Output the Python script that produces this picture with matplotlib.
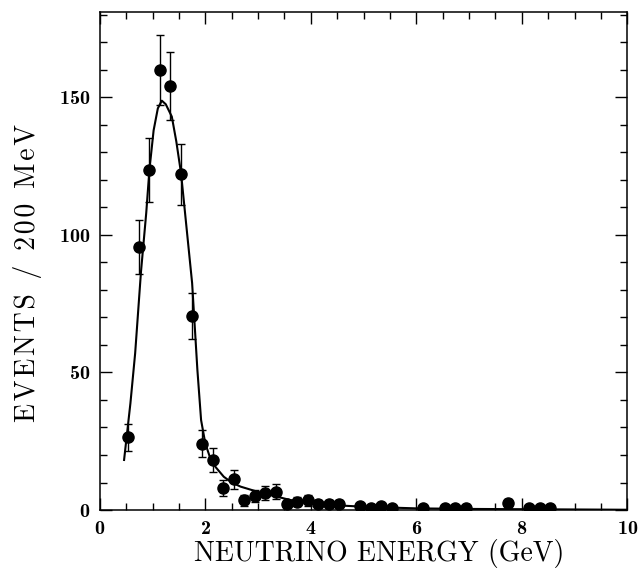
import numpy as np
import matplotlib
matplotlib.use("Agg")
import matplotlib.pyplot as plt
from matplotlib.ticker import MultipleLocator

plt.rcParams['font.family'] = ['cmr10', 'DejaVu Serif']
plt.rcParams['axes.formatter.use_mathtext'] = True

# measured points (bin centres, events per 200 MeV, errors)
energy = [0.54, 0.74, 0.94, 1.14, 1.34, 1.54, 1.74, 1.94, 2.14, 2.34, 2.54,
          2.74, 2.94, 3.14, 3.34, 3.54, 3.74, 3.94, 4.14, 4.34, 4.54, 4.94,
          5.14, 5.34, 5.54, 6.12, 6.54, 6.74, 6.94, 7.74, 8.14, 8.34, 8.54]
events = [26.4, 95.5, 123.6, 160.0, 154.0, 122.0, 70.5, 24.1, 18.2, 8.0, 11.2,
          3.6, 5.1, 6.1, 6.7, 2.2, 3.0, 3.6, 2.2, 2.2, 2.2, 1.5,
          0.7, 1.5, 0.7, 0.7, 0.7, 0.7, 0.7, 2.4, 0.7, 0.7, 0.7]
errors = [5.0, 9.8, 11.5, 12.7, 12.4, 11.2, 8.5, 5.0, 4.2, 2.8, 3.4,
          2.0, 2.2, 2.5, 2.6, 1.5, 1.7, 2.0, 1.5, 1.5, 1.5, 1.2,
          1.0, 1.2, 1.0, 1.0, 1.0, 1.0, 1.0, 1.6, 1.0, 1.0, 1.0]

# fitted curve
fit_x = [0.46, 0.58, 0.67, 0.78, 0.88, 0.94, 1.02, 1.10, 1.175, 1.25, 1.365,
         1.45, 1.54, 1.68, 1.75, 1.85, 1.92, 2.0, 2.1, 2.2, 2.35, 2.5, 2.67,
         2.98, 3.37, 3.62, 4.0, 4.5, 5.0, 6.0, 7.0, 8.0, 9.0, 10.0]
fit_y = [18.2, 38.8, 57.0, 86.5, 108.0, 123.6, 138.0, 146.0, 148.8, 147.5, 143.0,
         134.0, 122.4, 95.8, 82.5, 50.9, 32.7, 24.2, 18.5, 15.5, 12.1, 10.0, 8.5,
         6.7, 4.8, 3.6, 2.6, 1.7, 1.2, 0.6, 0.4, 0.3, 0.2, 0.1]

fig = plt.figure(figsize=(6.44, 5.75), dpi=100)
ax = fig.add_axes([0.155, 0.113, 0.819, 0.866])

ax.plot(fit_x, fit_y, color='black', lw=1.5)
ax.errorbar(energy, events, yerr=errors, fmt='o', color='black', ms=8,
            elinewidth=1.0, capsize=2.6, capthick=1.0)

ax.set_xlim(0, 10)
ax.set_ylim(0, 181)
ax.xaxis.set_major_locator(MultipleLocator(2))
ax.xaxis.set_minor_locator(MultipleLocator(0.5))
ax.yaxis.set_major_locator(MultipleLocator(50))
ax.yaxis.set_minor_locator(MultipleLocator(10))
ax.tick_params(which='both', direction='in', top=True, right=True, width=1.0,
               labelsize=14.5, pad=7)
ax.tick_params(which='major', length=8.5)
ax.tick_params(which='minor', length=5)
for lab in ax.get_xticklabels() + ax.get_yticklabels():
    lab.set_family(['cmb10', 'DejaVu Serif'])
for s in ax.spines.values():
    s.set_linewidth(1.1)

ax.set_xlabel('NEUTRINO ENERGY (GeV)', fontsize=20)
ax.xaxis.set_label_coords(0.53, -0.058)
ax.set_ylabel('\u200a'.join('EVENTS / 200 MeV'), fontsize=20)
ax.yaxis.set_label_coords(-0.11, 0.475)

fig.savefig('out.png', dpi=100)
